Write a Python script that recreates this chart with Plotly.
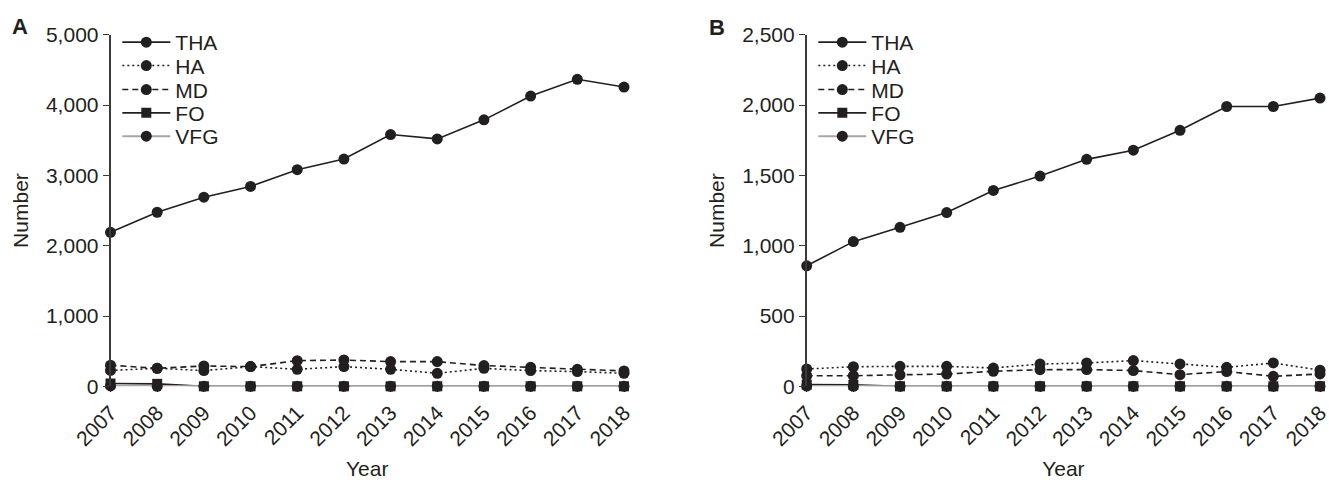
import plotly.graph_objects as go

years = [2007, 2008, 2009, 2010, 2011, 2012, 2013, 2014, 2015, 2016, 2017, 2018]
year_labels = [str(y) for y in years]

# Panel A
tha_a = [2190, 2476, 2690, 2843, 3081, 3233, 3581, 3519, 3790, 4129, 4367, 4257]
ha_a = [225, 256, 223, 280, 242, 280, 242, 185, 255, 223, 209, 185]
md_a = [300, 256, 289, 280, 365, 374, 351, 351, 295, 270, 242, 218]
fo_a = [40, 35, 0, 0, 0, 0, 0, 0, 0, 0, 0, 0]
vfg_a = [5, 0, 0, 0, 0, 0, 0, 0, 0, 0, 0, 0]

# Panel B
tha_b = [857, 1029, 1131, 1236, 1393, 1495, 1614, 1679, 1821, 1990, 1990, 2050]
ha_b = [123, 139, 142, 142, 130, 158, 166, 183, 159, 135, 166, 115]
md_b = [75, 75, 82, 87, 107, 118, 119, 112, 83, 105, 71, 88]
fo_b = [12, 10, 0, 0, 0, 0, 0, 0, 0, 0, 0, 0]
vfg_b = [2, 0, 0, 0, 0, 0, 0, 0, 0, 0, 0, 0]

names = ["THA", "HA", "MD", "FO", "VFG"]
INK = "#231f20"
GRAY = "#a6a6a6"
styles = {
    "THA": dict(line=dict(color=INK, width=1.6), marker=dict(symbol="circle", size=11, color=INK)),
    "HA": dict(line=dict(color=INK, width=1.6, dash="2px,3px"), marker=dict(symbol="circle", size=11, color=INK)),
    "MD": dict(line=dict(color=INK, width=1.6, dash="6px,4px"), marker=dict(symbol="circle", size=11, color=INK)),
    "FO": dict(line=dict(color=INK, width=1.6), marker=dict(symbol="square", size=10, color=INK)),
    "VFG": dict(line=dict(color=GRAY, width=2), marker=dict(symbol="circle", size=11, color=INK)),
}

FONT = "Liberation Sans, Arial, sans-serif"
FS = 21
W, H = 1329, 480

fig = go.Figure()

legend_rows = [43.3, 66.7, 90.7, 114.0, 137.3]
legend_x0 = {"A": 122.3, "B": 818.3}

layout_legends = {}
panels = [
    ("A", "x", "y", [tha_a, ha_a, md_a, fo_a, vfg_a]),
    ("B", "x2", "y2", [tha_b, ha_b, md_b, fo_b, vfg_b]),
]
li = 0
for pname, xa, ya, series in panels:
    for k, (name, vals) in enumerate(zip(names, series)):
        li += 1
        lg = "legend" if li == 1 else f"legend{li}"
        fig.add_trace(go.Scatter(
            x=years, y=vals, name=name, mode="lines+markers",
            xaxis=xa, yaxis=ya, legend=lg, cliponaxis=False, showlegend=True,
            **styles[name]))
        layout_legends[lg] = dict(
            x=(legend_x0[pname] - 5) / W, y=1 - (legend_rows[k] - 0.8) / H,
            xanchor="left", yanchor="middle", bgcolor="rgba(0,0,0,0)",
            font=dict(family=FONT, size=FS, color=INK), itemwidth=48)

y_dom = [1 - 386.3 / H, 1 - 34.8 / H]
xa_dom = [110.5 / W, 624 / W]
xb_dom = [806.7 / W, 1320 / W]

xcommon = dict(range=[2007, 2018], tickvals=years, ticktext=year_labels, tickangle=-45,
               showline=False, showgrid=False, zeroline=False, ticks="outside",
               ticklen=5, tickcolor=INK, tickwidth=1.2, ticklabeloverflow="allow",
               tickfont=dict(family=FONT, size=FS, color=INK),
               title=dict(text="Year", font=dict(family=FONT, size=FS, color=INK), standoff=12),
               automargin=False)
ycommon = dict(showline=True, linecolor="#3a3a3a", linewidth=1.6, showgrid=False, zeroline=False,
               ticks="outside", ticklen=6, tickcolor="#3a3a3a", tickwidth=1.4,
               tickformat=",d", tickfont=dict(family=FONT, size=FS, color=INK),
               title=dict(text="Number", font=dict(family=FONT, size=FS, color=INK), standoff=12),
               automargin=False)

fig.update_layout(
    width=W, height=H,
    margin=dict(l=0, r=0, t=0, b=0),
    paper_bgcolor="white", plot_bgcolor="white",
    showlegend=True,
    xaxis=dict(domain=xa_dom, anchor="y", **xcommon),
    yaxis=dict(domain=y_dom, anchor="x", range=[0, 5000], dtick=1000, **ycommon),
    xaxis2=dict(domain=xb_dom, anchor="y2", **xcommon),
    yaxis2=dict(domain=y_dom, anchor="x2", range=[0, 2500], dtick=500, **ycommon),
    annotations=[
        dict(text="<b>A</b>", x=20 / W, y=1 - 26 / H, xref="paper", yref="paper",
             xanchor="center", yanchor="middle", showarrow=False,
             font=dict(family=FONT, size=22, color=INK)),
        dict(text="<b>B</b>", x=717 / W, y=1 - 27.5 / H, xref="paper", yref="paper",
             xanchor="center", yanchor="middle", showarrow=False,
             font=dict(family=FONT, size=22, color=INK)),
    ],
    **layout_legends,
)

fig.write_html(
    "out.html",
    config={"displayModeBar": False},
    post_script="document.body.style.margin='0';document.body.style.padding='0';"
                "document.documentElement.style.overflow='hidden';document.body.style.overflow='hidden';",
)
